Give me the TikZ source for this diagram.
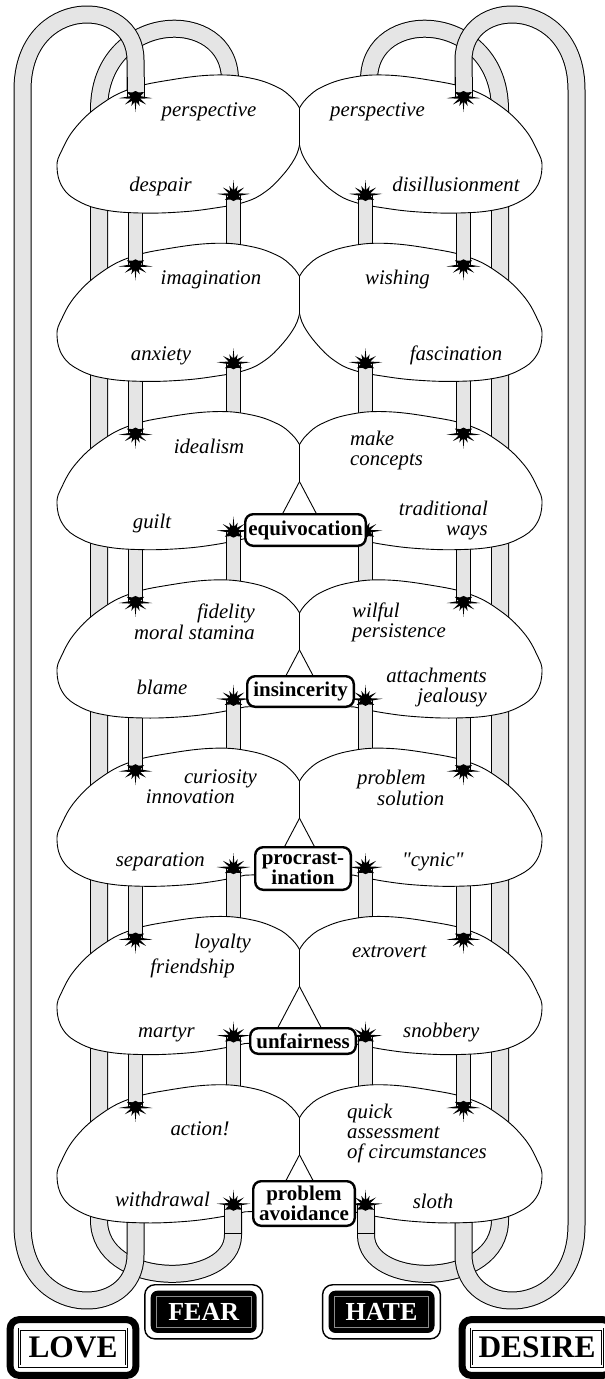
\documentclass[tikz,border=0pt]{standalone}
\usepackage{fontspec}
\setmainfont{Liberation Serif}[Ligatures=TeXOff]
\usetikzlibrary{calc}
\definecolor{tubegray}{gray}{0.9}
\definecolor{framegray}{gray}{0.55}
\tikzset{
  loopt/.style={line width=16pt, draw=tubegray, preaction={draw=black, line width=18pt}},
  connt/.style={line width=13pt, draw=tubegray, preaction={draw=black, line width=15pt}},
  blob/.style={draw=black, fill=white, line width=0.9pt, line join=round},
  lbl/.style={font=\itshape\fontsize{20.8}{21}\selectfont, inner sep=0pt},
  ctrbox/.style={draw=black, line width=2.4pt, rounded corners=8pt, fill=white, inner sep=0pt,
                 font=\bfseries\fontsize{21}{17}\selectfont, align=center},
  darkbox/.style={fill=black, rounded corners=7pt, minimum width=106pt, minimum height=42.3pt,
                 inner sep=0pt, text=white, font=\bfseries\fontsize{26}{26}\selectfont},
  lightbox/.style={draw=black, double, double distance=1.6pt, line width=0.7pt, minimum height=37pt,
                 inner sep=0pt, font=\bfseries\fontsize{31.4}{32}\selectfont},
  splat/.pic={\fill[black] (90:15pt) -- (80:5pt) -- (65:10pt) -- (50:5pt) -- (35:13pt) -- (20:5pt)
     -- (4:17pt) -- (-10:5pt) -- (-30:10pt) -- (-55:5.5pt) -- (-90:6pt) -- (-125:5.5pt) -- (-150:10pt)
     -- (-170:5pt) -- (176:17pt) -- (160:5pt) -- (145:13pt) -- (130:5pt) -- (115:10pt)
     -- (100:5pt) -- cycle;},
}
\newcommand{\blobA}[1]{\draw[blob,shift={(0,#1)}] plot[smooth,tension=0.7] coordinates {(299.5,33) (292,23) (277,12) (250,3) (215,0) (170,5) (130,14) (100,30) (76,52) (62,75) (57,92) (63,113) (80,127) (105,135) (140,138) (180,137) (215,133) (245,127) (265,117) (282,101) (295,83) (299.5,70)} -- cycle;}
\newcommand{\blobB}[1]{\draw[blob,shift={(0,#1)}] plot[smooth,tension=0.7] coordinates {(299.5,33) (292,23) (277,12) (250,3) (215,0) (170,5) (130,14) (100,30) (76,52) (62,75) (57,92) (63,113) (80,127) (105,135) (140,138) (180,137) (215,133) (245,127)} -- (270,126) -- (299.5,70) -- cycle;}
\newcommand{\allblobs}{\blobA{75}\blobA{243.3}\blobB{411.6}\blobB{579.9}\blobB{748.2}\blobB{916.5}\blobB{1084.8}}
\newcommand{\tubeB}{\coordinate (bs) at (230,100); \coordinate (be) at (233,1204.8);
  \draw[loopt] (bs) -- (230,80) .. controls (230,5) and (99,10) .. (99,110) -- (99,1220) .. controls (99,1289) and (233,1289) .. (233,1235) -- (be);}
\newcommand{\tubeA}{\coordinate (as) at (135.5,1204.8); \coordinate (ae) at (135.5,97);
  \draw[loopt] (as) -- (135.5,1255) .. controls (135.5,1320) and (22.5,1320) .. (22.5,1225) -- (22.5,90) .. controls (22.5,-5) and (135.5,-5) .. (135.5,60) -- (ae);}
\newcommand{\conns}{\foreach \a/\b in {75/243.3, 243.3/411.6, 411.6/579.9, 579.9/748.2, 748.2/916.5, 916.5/1084.8} {
  \draw[connt] (135.5,\a+120) -- (135.5,\b+22); \draw[connt] (233.5,\b+15) -- (233.5,\a+120);}}
\newcommand{\tips}{\foreach \a/\b in {75/243.3, 243.3/411.6, 411.6/579.9, 579.9/748.2, 748.2/916.5, 916.5/1084.8} {
  \draw[connt] (135.5,\b+2) -- (135.5,\b+22); \draw[connt] (233.5,\a+137) -- (233.5,\a+120);}
  \draw[loopt] (135.5,77) -- (135.5,97);
  \draw[loopt] (233,1233) -- (233,1204.8);
  \draw[line width=0.9pt] (224,1233) -- (242,1233);}
\newcommand{\stars}{\foreach \y in {75,243.3,411.6,579.9,748.2,916.5,1084.8} {
  \pic[rotate=180] at (135.5,\y+22) {splat}; \pic at (233.5,\y+120) {splat};}}
\begin{document}
\begin{tikzpicture}[x=1pt,y=-1pt]
\useasboundingbox (0,0) rectangle (605,1379);
\fill[white] (0,0) rectangle (605,1379);
\clip (0,0) rectangle (605,1379);
% loops
\tubeB
\begin{scope}[xshift=599pt,xscale=-1]\tubeB\end{scope}
\tubeA
\begin{scope}[xshift=599pt,xscale=-1]\tubeA\end{scope}
\conns
\begin{scope}[xshift=599pt,xscale=-1]\conns\end{scope}
% blobs
\allblobs
\begin{scope}[xshift=599pt,xscale=-1]\allblobs\end{scope}
% tube ends and arrowheads
\tips
\begin{scope}[xshift=599pt,xscale=-1]\tips\end{scope}
\stars
\begin{scope}[xshift=599pt,xscale=-1]\stars\end{scope}
% central boxes
\node[ctrbox, minimum width=120.6pt, minimum height=31.6pt] (equi) at (305.5,530) {equivocation};
\node[ctrbox, minimum width=106.6pt, minimum height=30.6pt] (insin) at (300.5,691.5) {insincerity};
\node[ctrbox, minimum width=95.6pt, minimum height=42.6pt] (procr) at (303,868.5) {procrast-\\ination};
\node[ctrbox, minimum width=105.6pt, minimum height=25.6pt] (unfair) at (303,1041) {unfairness};
\node[ctrbox, minimum width=101.6pt, minimum height=44.6pt] (probav) at (304,1203.5) {problem\\avoidance};
% labels
\node[lbl, anchor=base] (l1a) at (209,116.5) {perspective};
\node[lbl, anchor=base] (l1b) at (160.5,191.7) {despair};
\node[lbl, anchor=base] (r1a) at (377.5,116.7) {perspective};
\node[lbl, anchor=base] (r1b) at (456,191.7) {disillusionment};
\node[lbl, anchor=base] (l2a) at (211,284) {imagination};
\node[lbl, anchor=base] (l2b) at (161,360) {anxiety};
\node[lbl, anchor=base] (r2a) at (397.5,284) {wishing};
\node[lbl, anchor=base] (r2b) at (456,360) {fascination};
\node[lbl, anchor=base] (l3a) at (209,453.3) {idealism};
\node[lbl, anchor=base] (l3b) at (152,528) {guilt};
\node[lbl, anchor=base west] (r3a) at (350,445) {make};
\node[lbl, anchor=base west] (r3b) at (350,465.5) {concepts};
\node[lbl, anchor=base east] (r3c) at (488,515) {traditional};
\node[lbl, anchor=base east] (r3d) at (488,535) {ways};
\node[lbl, anchor=base east] (l4a) at (255,618) {fidelity};
\node[lbl, anchor=base east] (l4b) at (255,639) {moral stamina};
\node[lbl, anchor=base] (l4c) at (162,694) {blame};
\node[lbl, anchor=base west] (r4a) at (352,617) {wilful};
\node[lbl, anchor=base west] (r4b) at (352,637.5) {persistence};
\node[lbl, anchor=base east] (r4c) at (487,682) {attachments};
\node[lbl, anchor=base east] (r4d) at (487,702) {jealousy};
\node[lbl, anchor=base east] (l5a) at (257,783) {curiosity};
\node[lbl, anchor=base east] (l5b) at (235,803) {innovation};
\node[lbl, anchor=base east] (l5c) at (205,866) {separation};
\node[lbl, anchor=base west] (r5a) at (357,784) {problem};
\node[lbl, anchor=base west] (r5b) at (377,805) {solution};
\node[lbl, anchor=base west] (r5c) at (402,866) {"cynic"};
\node[lbl, anchor=base west] (l6a) at (194,948) {loyalty};
\node[lbl, anchor=base east] (l6b) at (235,973) {friendship};
\node[lbl, anchor=base east] (l6c) at (195,1037) {martyr};
\node[lbl, anchor=base west] (r6a) at (352,957) {extrovert};
\node[lbl, anchor=base west] (r6b) at (403,1037) {snobbery};
\node[lbl, anchor=base] (l7a) at (200,1135) {action!};
\node[lbl, anchor=base] (l7b) at (162.5,1206.7) {withdrawal};
\node[lbl, anchor=base west] (r7a) at (347,1118) {quick};
\node[lbl, anchor=base west] (r7b) at (347,1138) {assessment};
\node[lbl, anchor=base west] (r7c) at (347,1158) {of circumstances};
\node[lbl, anchor=base] (r7d) at (433,1208) {sloth};
% emotion boxes
\node[darkbox] (fear) at (203.7,1311.8) {FEAR};
\draw[line width=1.4pt, rounded corners=10pt] ($(fear.north west)+(-5.7pt,5.7pt)$) rectangle ($(fear.south east)+(5.7pt,-5.7pt)$);
\draw[framegray, line width=0.6pt] ($(fear.north west)+(6pt,-6pt)$) rectangle ($(fear.south east)+(-6pt,6pt)$);
\node[darkbox] (hate) at (381.5,1311.8) {HATE};
\draw[line width=1.4pt, rounded corners=10pt] ($(hate.north west)+(-5.7pt,5.7pt)$) rectangle ($(hate.south east)+(5.7pt,-5.7pt)$);
\draw[framegray, line width=0.6pt] ($(hate.north west)+(6pt,-6pt)$) rectangle ($(hate.south east)+(-6pt,6pt)$);
\node[lightbox, minimum width=107pt] (love) at (73,1347.5) {LOVE};
\draw[line width=7pt, rounded corners=9pt] ($(love.north west)+(-9pt,9pt)$) rectangle ($(love.south east)+(9pt,-9pt)$);
\node[lightbox, minimum width=131pt] (desire) at (537,1347.5) {DESIRE};
\draw[line width=7pt, rounded corners=9pt] ($(desire.north west)+(-9pt,9pt)$) rectangle ($(desire.south east)+(9pt,-9pt)$);
\end{tikzpicture}
\end{document}
